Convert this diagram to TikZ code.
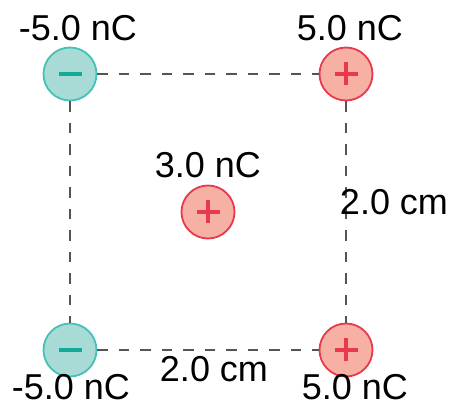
\documentclass[tikz,border=0pt]{standalone}
\usepackage{fontspec}
\setmainfont{Liberation Sans}
\usepackage{tikz}
\usetikzlibrary{calc}
\definecolor{negfill}{HTML}{A9DBD6}
\definecolor{negline}{HTML}{45C1B7}
\definecolor{negsign}{HTML}{14A898}
\definecolor{posfill}{HTML}{F6B1A4}
\definecolor{posline}{HTML}{E8394D}
\definecolor{sepline}{HTML}{555555}
\tikzset{
	neg charge/.style={circle, draw=negline, fill=negfill, line width=1.8pt, minimum size=53pt, inner sep=0pt},
	pos charge/.style={circle, draw=posline, fill=posfill, line width=1.8pt, minimum size=53pt, inner sep=0pt},
	sep/.style={draw=sepline, line width=1.4pt, dash pattern=on 10.5pt off 11pt},
	lbl/.style={anchor=base, inner sep=0pt, font=\fontsize{36}{40}\selectfont},
}
\def\minussign(#1)% Syntax: (center)
{ \draw[negsign, line width=4pt] ($(#1)+(-11.5pt,0)$) -- ($(#1)+(11.5pt,0)$); }
\def\plussign(#1)% Syntax: (center)
{ \draw[posline, line width=3.6pt] ($(#1)+(-11.5pt,0)$) -- ($(#1)+(11.5pt,0)$) ($(#1)+(0,-11.5pt)$) -- ($(#1)+(0,11.5pt)$); }
\begin{document}
\begin{tikzpicture}[x=1pt,y=-1pt]
	\useasboundingbox (0,0) rectangle (456,414);
	% charges
	\node[neg charge] (qa) at (70,74) {};
	\node[pos charge] (qb) at (346,74) {};
	\node[neg charge] (qc) at (70,350) {};
	\node[pos charge] (qd) at (346,350) {};
	\node[pos charge] (q0) at (208,212) {};
	% sides of the square
	\draw[sep] (qa) -- (qb);
	\draw[sep] (qb) -- (qd);
	\draw[sep] (qc) -- (qd);
	\draw[sep] (qa) -- (qc);
	\minussign(qa);
	\minussign(qc);
	\plussign(qb);
	\plussign(qd);
	\plussign(q0);
	% labels
	\node[lbl] (la) at (78,41) {-5.0 nC};
	\node[lbl] (lb) at (350,41) {5.0 nC};
	\node[lbl] (l0) at (208,178) {3.0 nC};
	\node[lbl] (lside) at (394,215) {2.0 cm};
	\node[lbl] (lbase) at (214,382) {2.0 cm};
	\node[lbl] (lc) at (71,400) {-5.0 nC};
	\node[lbl] (ld) at (355,400) {5.0 nC};
\end{tikzpicture}
\end{document}
